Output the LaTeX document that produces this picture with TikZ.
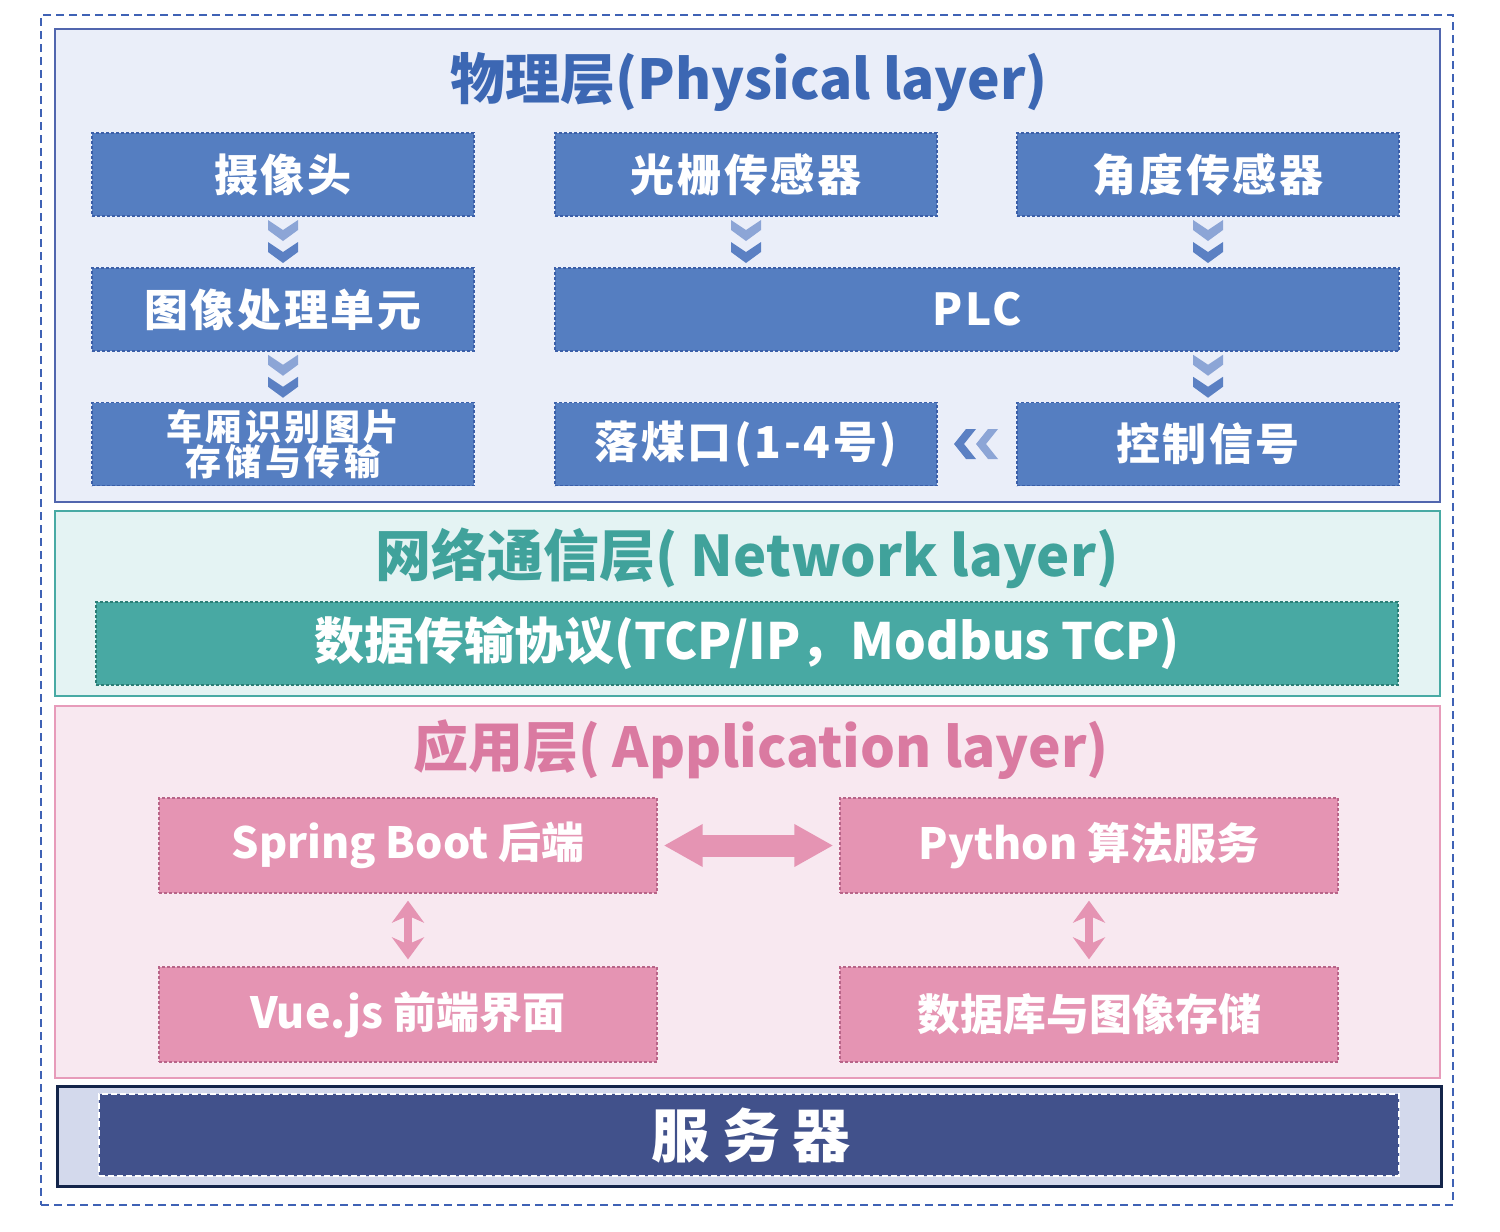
\documentclass[tikz,border=0pt]{standalone}
\usepackage{fontspec}
\setmainfont{Noto Sans CJK SC}
\usetikzlibrary{arrows.meta,calc}
\definecolor{framecol}{HTML}{3F62B5}
\definecolor{physfill}{HTML}{EAEEF9}
\definecolor{physline}{HTML}{5166AE}
\definecolor{phystitle}{HTML}{3C67B3}
\definecolor{pboxfill}{HTML}{557EC1}
\definecolor{pboxline}{HTML}{3B5FA9}
\definecolor{chevlight}{HTML}{8CA5D6}
\definecolor{chevdark}{HTML}{5B80C3}
\definecolor{netfill}{HTML}{E4F3F3}
\definecolor{netline}{HTML}{48AAA4}
\definecolor{nettitle}{HTML}{40A29B}
\definecolor{nboxfill}{HTML}{48A9A3}
\definecolor{nboxline}{HTML}{2A7E76}
\definecolor{appfill}{HTML}{F8E8F0}
\definecolor{appline}{HTML}{E79BBA}
\definecolor{apptitle}{HTML}{DA7AA1}
\definecolor{aboxfill}{HTML}{E594B3}
\definecolor{aboxline}{HTML}{B86488}
\definecolor{srvfill}{HTML}{D3D9EC}
\definecolor{srvline}{HTML}{14254A}
\definecolor{srvbox}{HTML}{41518B}
\begin{document}
\begin{tikzpicture}[x=1pt,y=-1pt,
  layerbox/.style={rectangle, inner sep=0pt, line width=2pt},
  titletext/.style={inner sep=0pt, font={\fontsize{55}{62}\selectfont\bfseries}},
  pbox/.style={rectangle, inner sep=0pt, draw=pboxline, fill=pboxfill, line width=1.3pt,
    dash pattern=on 3pt off 2pt, text=white, minimum width=382pt, minimum height=83pt,
    font={\fontsize{44}{50}\selectfont\bfseries\addfontfeature{LetterSpace=6}}},
  nbox/.style={pbox, draw=nboxline, fill=nboxfill, font={\fontsize{50}{56}\selectfont\bfseries}},
  abox/.style={pbox, draw=aboxline, fill=aboxfill, minimum width=498pt, minimum height=95pt,
    font={\fontsize{43}{50}\selectfont\bfseries}},
  chevdown/.pic={
    \fill[chevlight] (-15,-22) -- (0,-12) -- (15,-22) -- (15,-12) -- (0,-1) -- (-15,-12) -- cycle;
    \fill[chevdark] (-15,0) -- (0,10) -- (15,0) -- (15,10) -- (0,21) -- (-15,10) -- cycle;
  },
  chevleft/.pic={
    \fill[chevdark] (-23,0) -- (-11,-15) -- (-1,-15) -- (-13,0) -- (-1,15) -- (-11,15) -- cycle;
    \fill[chevlight] (-1,0) -- (11,-15) -- (21,-15) -- (9,0) -- (21,15) -- (11,15) -- cycle;
  },
  harrow/.style={line width=22pt, draw=aboxfill,
    {Triangle[length=39pt,width=40pt]}-{Triangle[length=39pt,width=40pt]}},
  varrow/.style={line width=8pt, draw=aboxfill,
    {Stealth[length=22pt,width=32pt,inset=7pt]}-{Stealth[length=22pt,width=32pt,inset=7pt]}}
]
\useasboundingbox (0,0) rectangle (1500,1232);
% outer frame
\node[rectangle, inner sep=0pt, draw=framecol, line width=2.2pt, dash pattern=on 8pt off 5pt,
  minimum width=1412pt, minimum height=1190pt] (frame) at (747,610) {};

% physical layer
\node[layerbox, draw=physline, fill=physfill, minimum width=1385pt, minimum height=473pt] (phys) at (747.5,265.5) {};
\node[titletext, text=phystitle] (phystitle) at (749,82) {物理层(Physical layer)};
\node[pbox] (cam) at (283,174.5) {摄像头};
\node[pbox] (grat) at (746,174.5) {光栅传感器};
\node[pbox] (ang) at (1208,174.5) {角度传感器};
\node[pbox] (ipu) at (283,309.5) {图像处理单元};
\node[pbox, minimum width=844pt] (plc) at (977,309.5) {PLC};
\node[pbox, align=center, font={\fontsize{36}{35}\selectfont\bfseries\addfontfeature{LetterSpace=10}}] (store) at (283,444) {车厢识别图片\\存储与传输};
\node[pbox] (coal) at (746,444) {落煤口(1-4号)};
\node[pbox] (ctrl) at (1208,444) {控制信号};
\pic at ($(cam.south)!0.5!(ipu.north)$) {chevdown};
\pic at ($(grat.south)!0.5!(plc.north -| grat.south)$) {chevdown};
\pic at ($(ang.south)!0.5!(plc.north -| ang.south)$) {chevdown};
\pic at ($(ipu.south)!0.5!(store.north)$) {chevdown};
\pic at ($(plc.south -| ctrl.north)!0.5!(ctrl.north)$) {chevdown};
\pic at ($(coal.east)!0.5!(ctrl.west)$) {chevleft};

% network layer
\node[layerbox, draw=netline, fill=netfill, minimum width=1385pt, minimum height=185pt] (net) at (747.5,603.5) {};
\node[titletext, text=nettitle, font={\fontsize{56}{62}\selectfont\bfseries}] (nettitle) at (747,558) {网络通信层( Network layer)};
\node[nbox, minimum width=1302pt] (proto) at (747,643.5) {数据传输协议(TCP/IP，Modbus TCP)};

% application layer
\node[layerbox, draw=appline, fill=appfill, minimum width=1385pt, minimum height=372pt] (app) at (747.5,892) {};
\node[titletext, text=apptitle] (apptitle) at (761,750) {应用层( Application layer)};
\node[abox] (sb) at (408,845.5) {Spring Boot 后端};
\node[abox] (py) at (1089,845.5) {Python 算法服务};
\node[abox] (vue) at (408,1014.5) {Vue.js 前端界面};
\node[abox] (db) at (1089,1014.5) {数据库与图像存储};
\draw[harrow] ([xshift=6pt]sb.east) -- ([xshift=-6pt]py.west);
\draw[varrow] ([yshift=-7pt]sb.south) -- ([yshift=7pt]vue.north);
\draw[varrow] ([yshift=-7pt]py.south) -- ([yshift=7pt]db.north);

% server
\node[layerbox, draw=srvline, fill=srvfill, line width=3pt, minimum width=1384pt, minimum height=100pt] (srv) at (749,1136) {};
\node[rectangle, inner sep=0pt, draw=white, fill=srvbox, line width=1.5pt, dash pattern=on 6pt off 3pt,
  minimum width=1300pt, minimum height=82pt, text=white,
  font={\fontsize{58}{64}\selectfont\bfseries\addfontfeature{LetterSpace=22}}] (srvbox) at (749,1135) {\hspace*{4pt}服务器};
\end{tikzpicture}
\end{document}
